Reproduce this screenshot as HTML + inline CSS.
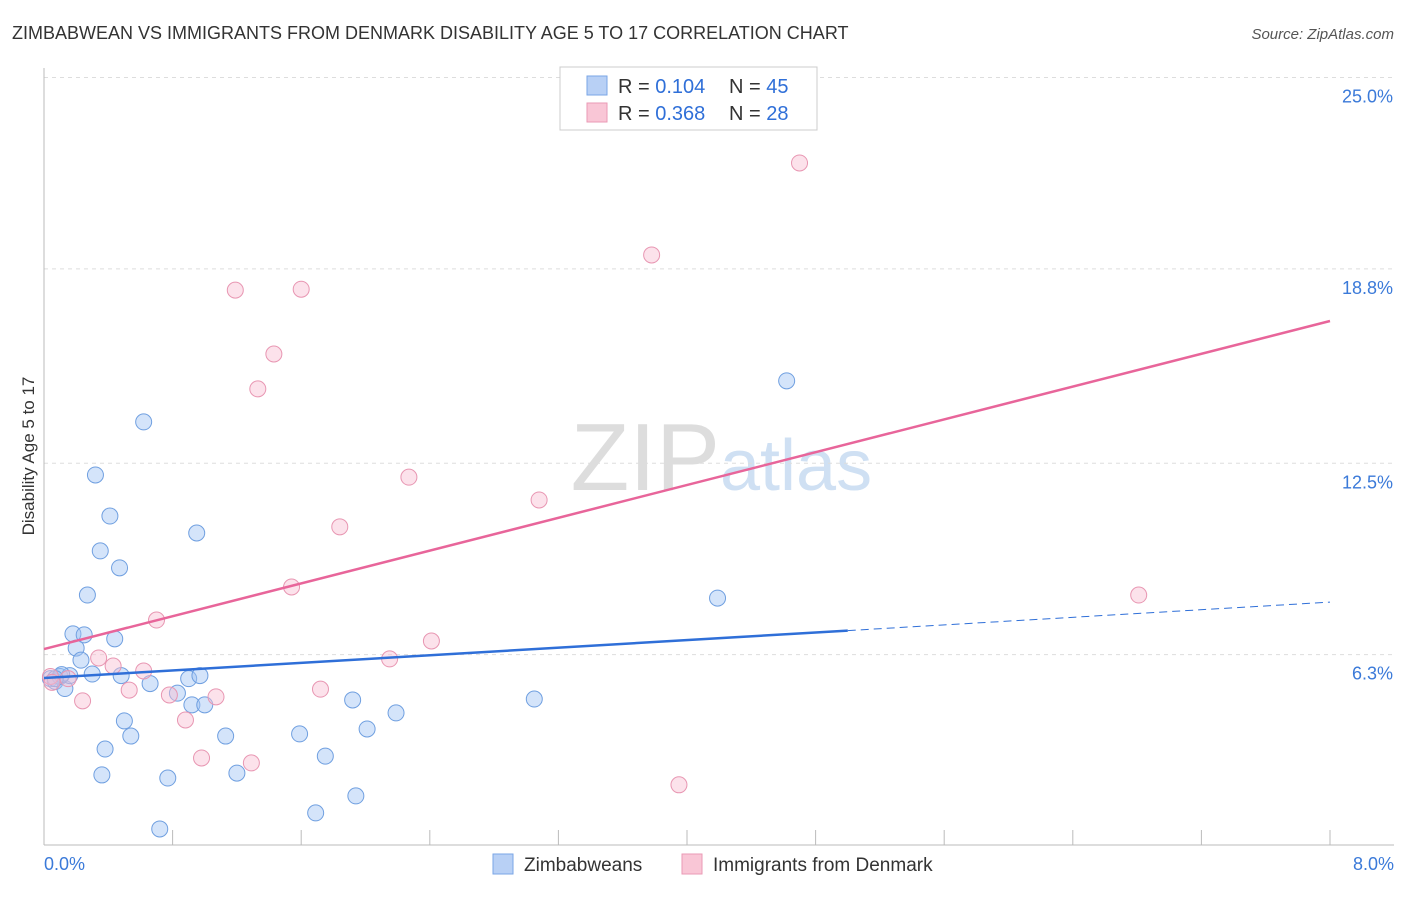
<!DOCTYPE html>
<html><head><meta charset="utf-8"><style>
body{margin:0;background:#fff;font-family:"Liberation Sans",sans-serif;}
svg text{font-family:"Liberation Sans",sans-serif;}
</style></head><body>
<svg width="1406" height="892" id="chart">
<text x="12" y="39" font-size="18" fill="#333">ZIMBABWEAN VS IMMIGRANTS FROM DENMARK DISABILITY AGE 5 TO 17 CORRELATION CHART</text>
<text x="1394" y="39" font-size="15" fill="#555" font-style="italic" text-anchor="end">Source: ZipAtlas.com</text>
<text x="34" y="456" font-size="17" fill="#333" text-anchor="middle" transform="rotate(-90 34 456)">Disability Age 5 to 17</text>
<text x="720" y="490" font-size="96" fill="#ddd" font-family="Liberation Serif" text-anchor="end">ZIP</text>
<text x="720" y="490" font-size="72" fill="#cfe0f3">atlas</text>
<g id="grid"></g><g id="marks"></g>
<g>
<rect x="560" y="67" width="257" height="63" fill="#fff" stroke="#ccc"/>
<rect x="587" y="76" width="20" height="19" fill="#b8d0f5" stroke="#7aa6e6"/>
<rect x="587" y="103" width="20" height="19" fill="#f9c6d6" stroke="#ea9ab5"/>
<text x="618" y="93" font-size="20" fill="#333">R = <tspan fill="#2f6fd8">0.104</tspan></text>
<text x="729" y="93" font-size="20" fill="#333">N = <tspan fill="#2f6fd8">45</tspan></text>
<text x="618" y="120" font-size="20" fill="#333">R = <tspan fill="#2f6fd8">0.368</tspan></text>
<text x="729" y="120" font-size="20" fill="#333">N = <tspan fill="#2f6fd8">28</tspan></text>
</g>
<g>
<rect x="493" y="854" width="20" height="20" fill="#b8d0f5" stroke="#7aa6e6"/>
<text x="524" y="871" font-size="19" fill="#333">Zimbabweans</text>
<rect x="682" y="854" width="20" height="20" fill="#f9c6d6" stroke="#ea9ab5"/>
<text x="713" y="871" font-size="19" fill="#333">Immigrants from Denmark</text>
</g>
</svg>
<script>
const yTicks=[25.0,18.8,12.5,6.3];
const yTickLabels=["25.0%","18.8%","12.5%","6.3%"];
const xTickLabels=["0.0%","8.0%"];
const blueX=[0.04,0.07,0.10,0.13,0.16,0.11,0.18,0.25,0.20,0.23,0.30,0.27,0.32,0.35,0.41,0.44,0.47,0.48,0.50,0.54,0.38,0.36,0.62,0.66,0.72,0.77,0.83,0.90,0.92,0.97,1.00,0.95,1.13,1.20,1.59,1.69,1.75,1.92,1.94,2.01,2.19,3.05,4.19,4.62,0.07];
const blueY=[5.52,5.43,5.59,5.20,5.62,5.65,6.97,6.94,6.51,6.12,5.67,8.23,12.12,9.66,10.79,6.81,9.11,5.62,4.15,3.66,3.24,2.40,13.84,5.36,0.65,2.30,5.05,5.52,4.67,5.62,4.67,10.24,3.66,2.46,3.73,1.17,3.01,4.83,1.72,3.89,4.41,4.86,8.13,15.17,5.52];
const pinkX=[0.04,0.05,0.15,0.24,0.34,0.43,0.53,0.62,0.70,0.78,0.88,0.98,1.07,1.19,1.29,1.33,1.43,1.54,1.60,1.72,1.84,2.15,2.27,2.41,3.08,3.78,3.95,4.70,6.81];
const pinkY=[5.59,5.40,5.52,4.80,6.19,5.93,5.15,5.77,7.42,4.99,4.18,2.95,4.93,18.11,2.79,14.91,16.04,8.49,18.14,5.18,10.44,6.16,12.05,6.74,11.31,19.25,2.08,22.23,8.23];
const blueLine=[5.54,8.0];
const pinkLine=[6.48,17.11];
const X=v=>44+v/8*1286, Y=v=>849-v*30.86;
const NS="http://www.w3.org/2000/svg";
function mk(t,a,p){const e=document.createElementNS(NS,t);for(const k in a)e.setAttribute(k,a[k]);p.appendChild(e);return e;}
const g=document.getElementById('grid'),m=document.getElementById('marks');
yTicks.forEach((v,i)=>{
 const l=mk('line',{x1:44,x2:1394,y1:Y(v),y2:Y(v),stroke:'#ddd','stroke-dasharray':'4,4'},g);
 
 
 const t=mk('text',{x:1393,y:Y(v)+25,'font-size':18,fill:'#3b7ad9','text-anchor':'end'},g);t.textContent=yTickLabels[i];
 
 
});
let ax=mk('line',{x1:44,x2:1394,y1:845,y2:845,stroke:'#bbb'},g);


let ay=mk('line',{x1:44,x2:44,y1:68,y2:845,stroke:'#bbb'},g);


for(let i=1;i<=10;i++){const xx=44+i*128.6;const tk=mk('line',{x1:xx,x2:xx,y1:830,y2:845,stroke:'#bbb'},g);
 
 }
[[0,'start',44],[8,'end',1394]].forEach((d,i)=>{const t=mk('text',{x:d[2],y:870,'font-size':18,fill:'#3b7ad9','text-anchor':d[1]},g);t.textContent=xTickLabels[i];
 
 });
blueX.forEach((x,i)=>{const c=mk('circle',{cx:X(x),cy:Y(blueY[i]),r:8,fill:'rgba(160,195,245,0.45)',stroke:'#6f9fe0','stroke-width':1},m);
 
 });
pinkX.forEach((x,i)=>{const c=mk('circle',{cx:X(x),cy:Y(pinkY[i]),r:8,fill:'rgba(248,190,210,0.45)',stroke:'#e896b2','stroke-width':1},m);
 
 });
const bAt=x=>blueLine[0]+(blueLine[1]-blueLine[0])*x/8;
let bl=mk('line',{x1:X(0),y1:Y(bAt(0)),x2:X(5.0),y2:Y(bAt(5.0)),stroke:'#2f6fd8','stroke-width':2.5},m);


let bd=mk('line',{x1:X(5.0),y1:Y(bAt(5.0)),x2:X(8),y2:Y(bAt(8)),stroke:'#2f6fd8','stroke-width':1,'stroke-dasharray':'8,5'},m);


let pl=mk('line',{x1:X(0),y1:Y(pinkLine[0]),x2:X(8),y2:Y(pinkLine[1]),stroke:'#e8659a','stroke-width':2.5},m);


</script>
</body></html>
